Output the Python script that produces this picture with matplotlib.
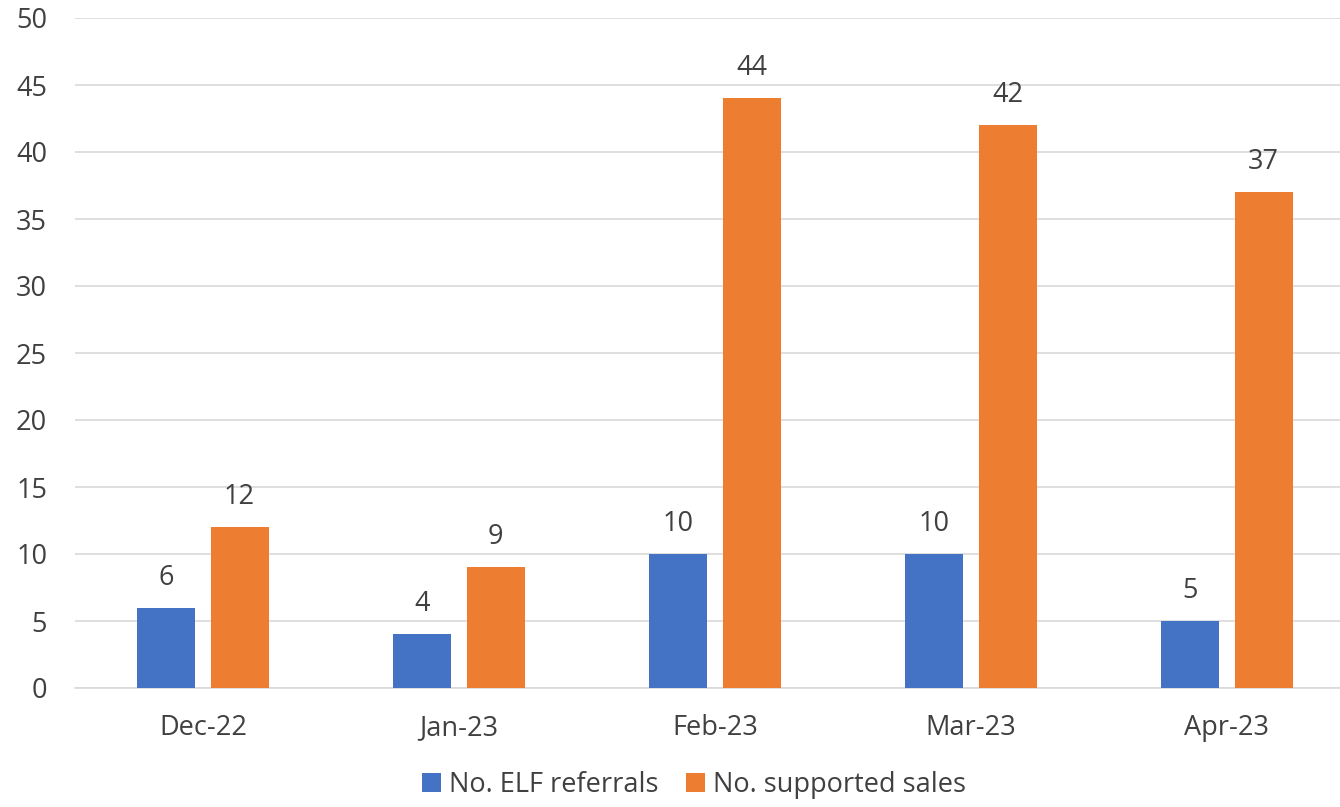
import numpy as np
import matplotlib
matplotlib.use("Agg")
import matplotlib.pyplot as plt

months = ["Dec-22", "Jan-23", "Feb-23", "Mar-23", "Apr-23"]
elf_referrals = [6, 4, 10, 10, 5]
supported_sales = [12, 9, 44, 42, 37]

plt.rcParams["font.family"] = ["Open Sans", "DejaVu Sans"]
txt = "#404040"
fs = 19.5

fig = plt.figure(figsize=(13.4, 8.07), dpi=100)
ax = fig.add_axes([75 / 1340, 119 / 807, 1265 / 1340, 670 / 807])

x = np.arange(len(months))
w = 0.2266
off = 0.1426
b1 = ax.bar(x - off, elf_referrals, w, color="#4472C4", label="No. ELF referrals", zorder=3)
b2 = ax.bar(x + off, supported_sales, w, color="#ED7D31", label="No. supported sales", zorder=3)

for bars, vals in ((b1, elf_referrals), (b2, supported_sales)):
    for b, v in zip(bars, vals):
        ax.text(b.get_x() + b.get_width() / 2, v + 1.2, str(v), ha="center", va="bottom",
                fontsize=fs, color=txt)

ax.set_ylim(0, 50)
ax.set_yticks(range(0, 51, 5))
ax.set_xlim(-0.5, 4.5 - 15 / 256)
ax.set_xticks(x)
ax.set_xticklabels(months)
ax.tick_params(axis="both", length=0, labelsize=fs, colors=txt)
ax.tick_params(axis="x", pad=19)
ax.tick_params(axis="y", pad=20)
ax.grid(axis="y", color="#D9D9D9", linewidth=1.2, zorder=0)
for s in ["top", "right", "left"]:
    ax.spines[s].set_visible(False)
ax.spines["bottom"].set_color("#D9D9D9")
ax.spines["bottom"].set_linewidth(1.2)

fig.legend(loc="lower center", bbox_to_anchor=(0.518, -0.02), ncol=2, frameon=False,
           fontsize=fs, handlelength=0.7, handleheight=0.7, handletextpad=0.3,
           columnspacing=1.0, labelcolor=txt)

fig.savefig("out.png", dpi=100)
